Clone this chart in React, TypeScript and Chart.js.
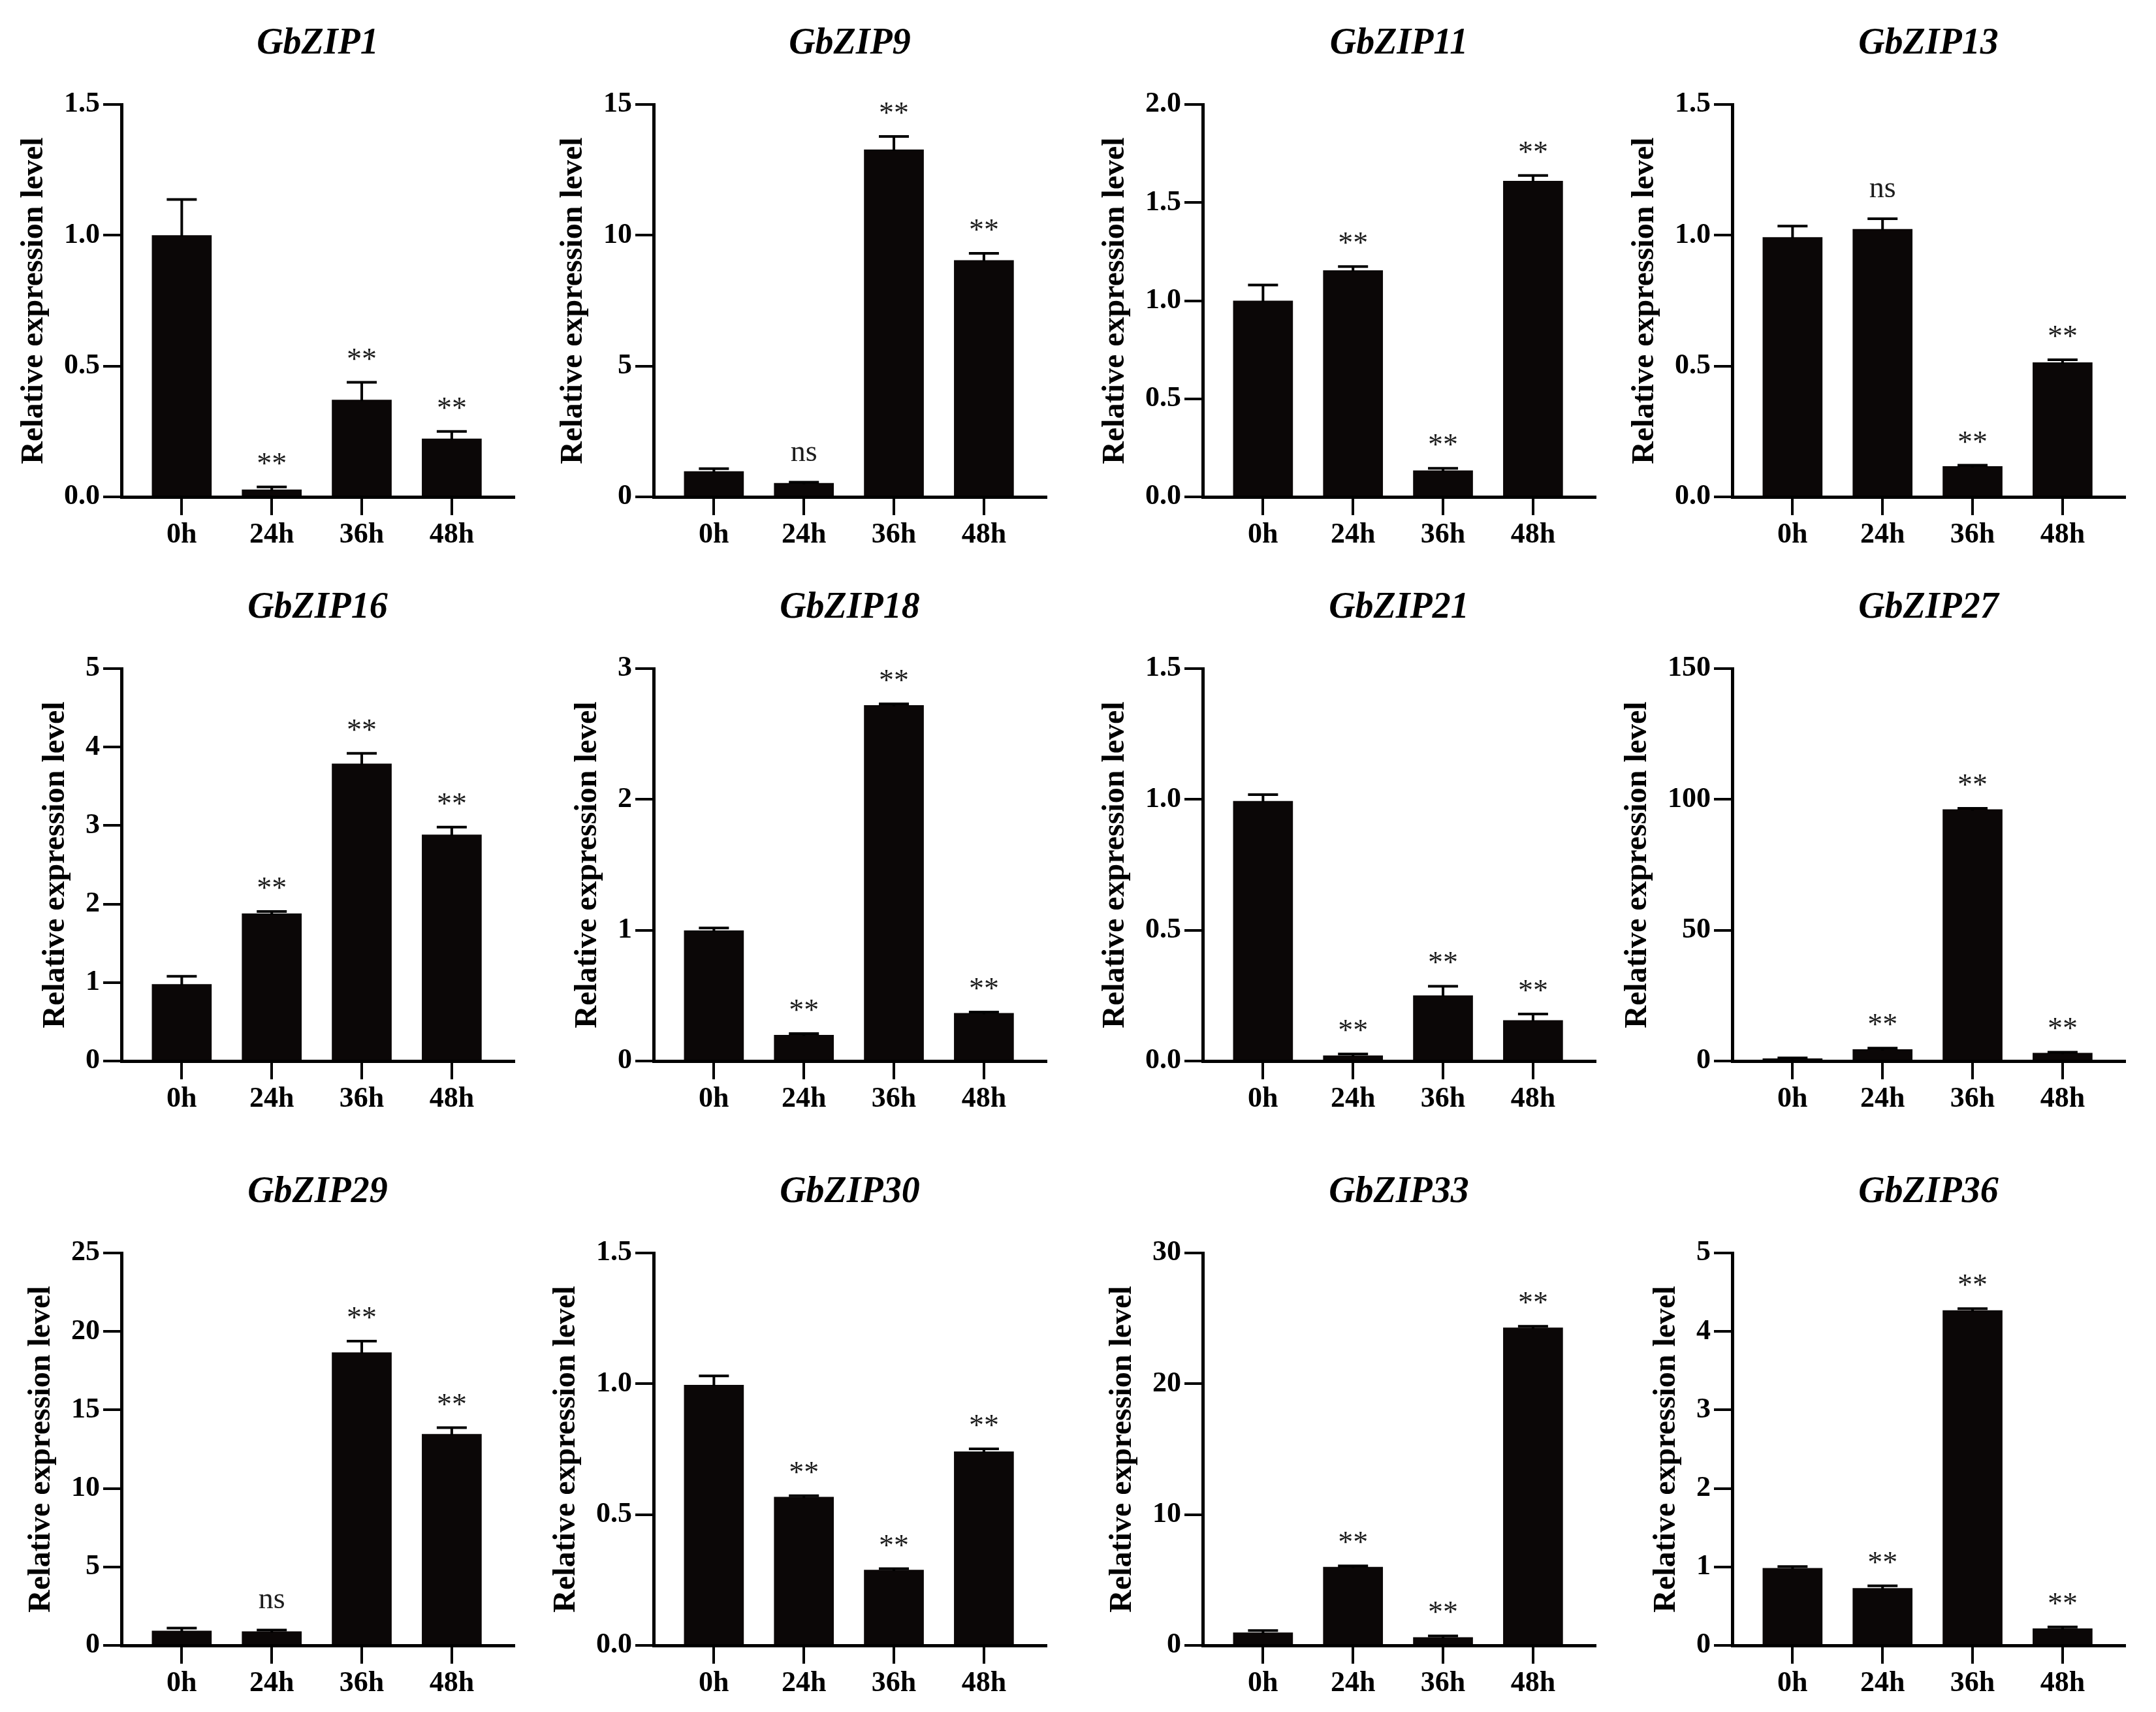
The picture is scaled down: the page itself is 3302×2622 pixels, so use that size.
import React, { useEffect, useRef } from 'react';
import Chart from 'chart.js/auto';

// sampling times on the x axis
const hours = ['0h', '24h', '36h', '48h'];

const genes = [
  'GbZIP1', 'GbZIP9', 'GbZIP11', 'GbZIP13',
  'GbZIP16', 'GbZIP18', 'GbZIP21', 'GbZIP27',
  'GbZIP29', 'GbZIP30', 'GbZIP33', 'GbZIP36',
];

// mean relative expression per gene (0h, 24h, 36h, 48h)
const means = [
  [1.0, 0.028, 0.371, 0.223],
  [0.98, 0.53, 13.28, 9.05],
  [1.0, 1.155, 0.135, 1.611],
  [0.993, 1.024, 0.117, 0.514],
  [0.98, 1.88, 3.79, 2.885],
  [0.998, 0.2, 2.72, 0.367],
  [0.994, 0.021, 0.251, 0.156],
  [1.0, 4.5, 96.2, 3.1],
  [0.94, 0.89, 18.67, 13.47],
  [0.996, 0.568, 0.289, 0.741],
  [0.99, 6.0, 0.62, 24.3],
  [0.985, 0.73, 4.27, 0.216],
];

// upper error (SD)
const errors = [
  [0.137, 0.01, 0.067, 0.027],
  [0.1, 0.03, 0.5, 0.26],
  [0.08, 0.019, 0.011, 0.027],
  [0.042, 0.039, 0.004, 0.01],
  [0.1, 0.025, 0.13, 0.095],
  [0.019, 0.01, 0.01, 0.008],
  [0.024, 0.006, 0.035, 0.024],
  [0.2, 0.4, 0.4, 0.3],
  [0.16, 0.09, 0.71, 0.4],
  [0.034, 0.004, 0.004, 0.01],
  [0.14, 0.08, 0.11, 0.1],
  [0.02, 0.03, 0.02, 0.02],
];

// significance vs 0h
const marks = [
  ['', '**', '**', '**'],
  ['', 'ns', '**', '**'],
  ['', '**', '**', '**'],
  ['', 'ns', '**', '**'],
  ['', '**', '**', '**'],
  ['', '**', '**', '**'],
  ['', '**', '**', '**'],
  ['', '**', '**', '**'],
  ['', 'ns', '**', '**'],
  ['', '**', '**', '**'],
  ['', '**', '**', '**'],
  ['', '**', '**', '**'],
];

// y axis range and tick step
const yMax = [1.5, 15, 2.0, 1.5, 5, 3, 1.5, 150, 25, 1.5, 30, 5];
const yStep = [0.5, 5, 0.5, 0.5, 1, 1, 0.5, 50, 5, 0.5, 10, 1];

const FONT = '"Liberation Serif", "Times New Roman", serif';
const PANEL_W = 830;
const PANEL_H = 862;
const AXIS_LEFT = 186;
const AREA_TOP = 160;
const AREA_BOTTOM = 761;
const AREA_RIGHT = 787;
const TICK_LEN = 28;
const colLeft = [0, 815, 1656, 2467];
const rowTop = [0, 864, 1759];

const fmt = (v: number, step: number) => (step < 1 ? v.toFixed(1) : String(Math.round(v)));

const Panel: React.FC<{ g: number }> = ({ g }) => {
  const canvas = useRef<HTMLCanvasElement | null>(null);
  const chartRef = useRef<Chart | null>(null);

  useEffect(() => {
    const el = canvas.current;
    if (!el) return;
    if (chartRef.current) chartRef.current.destroy();

    // put the y title a fixed gap left of the widest tick label
    const m = document.createElement('canvas').getContext('2d')!;
    m.font = `bold 44px ${FONT}`;
    let maxW = 0;
    for (let v = 0; v <= yMax[g] + 1e-9; v += yStep[g]) {
      maxW = Math.max(maxW, m.measureText(fmt(v, yStep[g])).width);
    }
    const titleLH = 48 * 1.2;
    const titlePad = Math.max(0, AXIS_LEFT - TICK_LEN - 5 - maxW - 45 - titleLH / 2);

    const extras = {
      id: 'extras',
      afterDatasetsDraw(chart: Chart) {
        const { ctx, chartArea } = chart;
        const x = chart.scales.x;
        const y = chart.scales.y;
        const meta = chart.getDatasetMeta(0);
        ctx.save();
        ctx.strokeStyle = '#000';
        ctx.lineWidth = 4;
        // tick marks under each time point
        ctx.beginPath();
        hours.forEach((_, i) => {
          const px = Math.round(x.getPixelForValue(i));
          ctx.moveTo(px, chartArea.bottom);
          ctx.lineTo(px, chartArea.bottom + TICK_LEN);
        });
        ctx.stroke();
        meta.data.forEach((bar: any, i: number) => {
          const top = y.getPixelForValue(means[g][i] + errors[g][i]);
          ctx.beginPath();
          ctx.moveTo(bar.x, bar.y + 2);
          ctx.lineTo(bar.x, top);
          ctx.moveTo(bar.x - 23, top);
          ctx.lineTo(bar.x + 23, top);
          ctx.stroke();
          const mk = marks[g][i];
          if (mk) {
            ctx.fillStyle = '#1c1c1c';
            ctx.font = `46px ${FONT}`;
            ctx.textAlign = 'center';
            ctx.textBaseline = 'alphabetic';
            ctx.fillText(mk, bar.x, top - (mk === 'ns' ? 33 : 21));
          }
        });
        ctx.fillStyle = '#000';
        ctx.font = `italic bold 56px ${FONT}`;
        ctx.textAlign = 'center';
        ctx.textBaseline = 'middle';
        ctx.fillText(genes[g], (chartArea.left + chartArea.right) / 2, chartArea.top - 92);
        ctx.restore();
      },
    };

    chartRef.current = new Chart(el, {
      type: 'bar',
      data: {
        datasets: [
          {
            label: genes[g],
            data: means[g].map((v, i) => ({ x: i, y: v })),
            backgroundColor: '#0b0707',
            borderWidth: 0,
            categoryPercentage: 1,
            barPercentage: 0.665,
          },
        ],
      },
      options: {
        responsive: false,
        animation: false,
        layout: { padding: { top: AREA_TOP, right: PANEL_W - AREA_RIGHT, left: 0, bottom: 0 } },
        plugins: {
          legend: { display: false },
          tooltip: { enabled: false },
          title: { display: false },
        },
        scales: {
          x: {
            type: 'linear',
            min: -0.67,
            max: 3.69,
            offset: false,
            afterBuildTicks: (s: any) => {
              s.ticks = hours.map((_, i) => ({ value: i }));
            },
            afterFit: (s: any) => {
              s.height = PANEL_H - AREA_BOTTOM;
            },
            ticks: {
              callback: (v: any) => hours[v] ?? '',
              color: '#000',
              font: { family: FONT, size: 44, weight: 'bold' },
              padding: 4,
              autoSkip: false,
              maxRotation: 0,
            },
            grid: {
              offset: false,
              drawOnChartArea: false,
              drawTicks: true,
              tickLength: TICK_LEN,
              lineWidth: 4,
              tickWidth: 4,
              color: '#000',
              tickColor: '#000',
            },
            border: { display: true, width: 5, color: '#000' },
          },
          y: {
            type: 'linear',
            min: 0,
            max: yMax[g],
            afterFit: (s: any) => {
              s.width = AXIS_LEFT;
            },
            ticks: {
              stepSize: yStep[g],
              callback: (v: any) => fmt(Number(v), yStep[g]),
              color: '#000',
              font: { family: FONT, size: 44, weight: 'bold' },
              padding: 5,
            },
            grid: { drawOnChartArea: false, drawTicks: true, tickLength: TICK_LEN, lineWidth: 4, color: '#000' },
            border: { display: true, width: 5, color: '#000' },
            title: {
              display: true,
              text: 'Relative expression level',
              color: '#000',
              font: { family: FONT, size: 48, weight: 'bold', lineHeight: 1.2 },
              padding: { top: titlePad, bottom: 0 },
            },
          },
        },
      },
      plugins: [extras],
    });

    return () => {
      chartRef.current?.destroy();
      chartRef.current = null;
    };
  }, [g]);

  return (
    <div
      style={{
        position: 'absolute',
        left: colLeft[g % 4],
        top: rowTop[Math.floor(g / 4)],
        width: PANEL_W,
        height: PANEL_H,
      }}
    >
      <canvas ref={canvas} width={PANEL_W} height={PANEL_H} style={{ width: PANEL_W, height: PANEL_H }} />
    </div>
  );
};

export default function App() {
  return (
    <div
      style={{
        position: 'absolute',
        left: 0,
        top: 0,
        width: 3302,
        height: 2622,
        overflow: 'hidden',
        background: '#fff',
      }}
    >
      {genes.map((_, g) => (
        <Panel key={g} g={g} />
      ))}
    </div>
  );
}
